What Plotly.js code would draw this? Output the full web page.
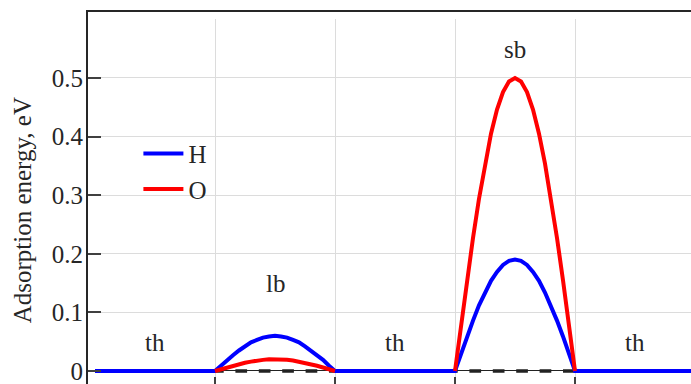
<!DOCTYPE html>
<html>
<head>
<meta charset="utf-8">
<script src="https://cdn.plot.ly/plotly-3.0.1.min.js"></script>
<style>
  html, body { margin: 0; padding: 0; overflow: hidden; background: #fff; }
  #chart { width: 760px; height: 420px; }
</style>
</head>
<body>
<div id="chart"></div>
<script>
// Adsorption energy profile along the surface path: top hollow (th),
// long bridge (lb), short bridge (sb) sites.
const lbX = [1, 1.05, 1.1, 1.15, 1.2, 1.25, 1.3, 1.35, 1.4, 1.45, 1.5,
             1.55, 1.6, 1.65, 1.7, 1.75, 1.8, 1.85, 1.9, 1.95, 2];
const sbX = [3, 3.05, 3.1, 3.15, 3.2, 3.25, 3.3, 3.35, 3.4, 3.45, 3.5,
             3.55, 3.6, 3.65, 3.7, 3.75, 3.8, 3.85, 3.9, 3.95, 4];

const hLb = [0, 0.009, 0.019, 0.027, 0.035, 0.042, 0.049, 0.053, 0.057, 0.059, 0.060,
             0.059, 0.057, 0.053, 0.049, 0.042, 0.035, 0.027, 0.019, 0.009, 0];
const hSb = [0, 0.030, 0.059, 0.086, 0.112, 0.134, 0.154, 0.169, 0.181, 0.188, 0.190,
             0.188, 0.181, 0.169, 0.154, 0.134, 0.112, 0.086, 0.059, 0.030, 0];
const oLb = [0, 0.003, 0.006, 0.009, 0.012, 0.014, 0.016, 0.018, 0.019, 0.020, 0.020,
             0.020, 0.019, 0.018, 0.016, 0.014, 0.012, 0.009, 0.006, 0.003, 0];
const oSb = [0, 0.078, 0.155, 0.227, 0.294, 0.354, 0.405, 0.446, 0.476, 0.494, 0.500,
             0.494, 0.476, 0.446, 0.405, 0.354, 0.294, 0.227, 0.155, 0.078, 0];

// flat stretches on the top-hollow segments
const pathStart = 0;
const pathEnd = 5.6;

const siteLabels = ['th', 'lb', 'th', 'sb', 'th'];
const siteX = [0.5, 1.5, 2.5, 3.5, 4.5];
const siteY = [0.048, 0.149, 0.048, 0.548, 0.048];

const yTickVals = [0, 0.1, 0.2, 0.3, 0.4, 0.5];
const yTickText = ['0', '0.1', '0.2', '0.3', '0.4', '0.5'];
const gridX = [0, 1, 2, 3, 4, 5];
const gridY = [0.1, 0.2, 0.3, 0.4, 0.5];
const boundaryTicks = [1, 2, 3, 4, 5];

const hX = [pathStart].concat(lbX, sbX, [pathEnd]);
const hY = [0].concat(hLb, hSb, [0]);
const oX = lbX.concat([2.5], sbX);
const oY = oLb.concat([null], oSb);

const serif = 'Liberation Serif';
const ink = '#262626';
const txt = { family: serif, size: 25, color: ink };

const traces = [
  {
    x: [pathStart, pathEnd], y: [0, 0], xaxis: 'x', yaxis: 'y',
    mode: 'lines', showlegend: false, hoverinfo: 'skip',
    line: { color: '#222', width: 3.5, dash: '11.7px,11.7px' }
  },
  {
    x: hX, y: hY, name: 'H', xaxis: 'x', yaxis: 'y',
    mode: 'lines', line: { color: '#0000ff', width: 4 }
  },
  {
    x: oX, y: oY, name: 'O', xaxis: 'x', yaxis: 'y',
    mode: 'lines', connectgaps: false, line: { color: '#ff0000', width: 4 }
  },
  // empty trace that keeps the framing axes on their own subplot
  {
    x: [], y: [], xaxis: 'x2', yaxis: 'y2', type: 'scatter',
    mode: 'lines', showlegend: false, hoverinfo: 'skip'
  }
];

const layout = {
  width: 760, height: 420,
  margin: { l: 88, r: 0, t: 12, b: 19 },
  paper_bgcolor: '#fff',
  plot_bgcolor: 'rgba(0,0,0,0)',
  font: txt,
  showlegend: true,
  legend: {
    x: 0.075, y: 0.695, xanchor: 'left', yanchor: 'top',
    bgcolor: 'rgba(0,0,0,0)', borderwidth: 0,
    font: txt,
    itemwidth: 40
  },
  // data grid region
  xaxis: {
    domain: [0.010417, 1], range: [0, 5.54167],
    tickvals: gridX, showticklabels: false, ticks: '',
    showgrid: true, gridcolor: '#dcdcdc', gridwidth: 1,
    zeroline: false, showline: false
  },
  yaxis: {
    domain: [0, 0.98098], range: [-0.05119, 0.6],
    tickvals: gridY, showticklabels: false, ticks: '',
    showgrid: true, gridcolor: '#dcdcdc', gridwidth: 1,
    zeroline: true, zerolinecolor: '#222', zerolinewidth: 1,
    showline: false,
    title: { text: 'Adsorption energy, eV', font: txt, standoff: 55 }
  },
  // framing axes with the tick marks
  xaxis2: {
    domain: [0, 1], range: [-0.05833, 5.54167], anchor: 'y2',
    tickvals: boundaryTicks, showticklabels: false,
    ticks: 'inside', ticklen: 13, tickwidth: 2, tickcolor: '#404040',
    showgrid: false, zeroline: false,
    showline: true, linecolor: ink, linewidth: 2, mirror: true
  },
  yaxis2: {
    domain: [0.028278, 1], range: [-0.03242, 0.61263], anchor: 'x2',
    tickvals: yTickVals, ticktext: yTickText,
    ticks: 'inside', ticklen: 13, tickwidth: 2, tickcolor: '#404040',
    tickfont: txt, ticklabelstandoff: -2,
    showgrid: false, zeroline: false,
    showline: true, linecolor: ink, linewidth: 2, mirror: true
  },
  annotations: siteLabels.map((t, i) => ({
    x: siteX[i], y: siteY[i], xref: 'x', yref: 'y',
    text: t, showarrow: false, xanchor: 'center', yanchor: 'middle',
    font: txt
  }))
};

Plotly.newPlot('chart', traces, layout, { staticPlot: true, displayModeBar: false });
</script>
</body>
</html>
